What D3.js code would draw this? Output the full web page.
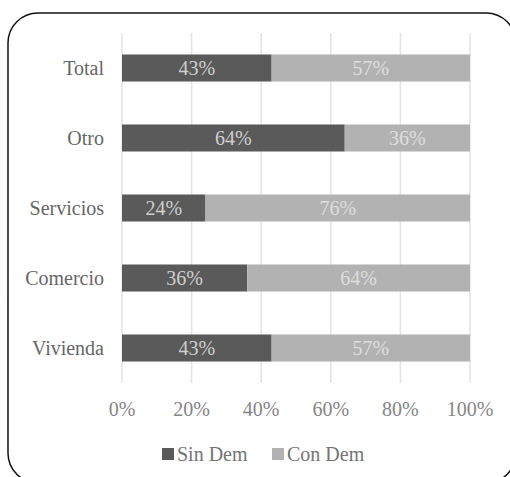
<!DOCTYPE html>
<html><head><meta charset="utf-8">
<script src="https://cdn.jsdelivr.net/npm/d3@7"></script>
<style>html,body{margin:0;padding:0;background:#fff;}svg{display:block;}
svg text{font-family:"Liberation Serif","DejaVu Serif",serif;}</style>
</head><body>
<script>
const categories = ["Total", "Otro", "Servicios", "Comercio", "Vivienda"];
const sinDem = [43, 64, 24, 36, 43];
const conDem = [57, 36, 76, 64, 57];
const seriesNames = ["Sin Dem", "Con Dem"];
const tickValues = [0, 20, 40, 60, 80, 100];

const W = 510, H = 477;
const colors = ["#5a5a5a", "#b2b2b2"];

const svg = d3.select("body").append("svg").attr("width", W).attr("height", H);

svg.append("rect").attr("x", 8).attr("y", 13).attr("width", 508).attr("height", 470)
  .attr("rx", 30).attr("ry", 30).attr("fill", "#fff").attr("stroke", "#111").attr("stroke-width", 1.5);

const x = d3.scaleLinear().domain([0, 100]).range([122, 470]);
const y = d3.scaleBand().domain(categories).range([33, 383]).paddingInner(0.614).paddingOuter(0.307);

// gridlines
svg.append("g").selectAll("line").data(tickValues).join("line")
  .attr("x1", d => x(d)).attr("x2", d => x(d)).attr("y1", 33).attr("y2", 383)
  .attr("stroke", "#e3e3e3").attr("stroke-width", 1.5);

const rows = categories.map((c, i) => ({cat: c, vals: [sinDem[i], conDem[i]]}));
const stacked = rows.map(r => {
  let acc = 0;
  return r.vals.map((v, k) => { const s = {cat: r.cat, k, v, x0: acc, x1: acc + v}; acc += v; return s; });
}).flat();

svg.append("g").selectAll("rect").data(stacked).join("rect")
  .attr("x", d => x(d.x0)).attr("width", d => x(d.x1) - x(d.x0))
  .attr("y", d => y(d.cat)).attr("height", y.bandwidth())
  .attr("fill", d => colors[d.k]);

svg.append("g").selectAll("text").data(stacked).join("text")
  .attr("x", d => (x(d.x0) + x(d.x1)) / 2)
  .attr("y", d => y(d.cat) + y.bandwidth() / 2)
  .attr("dy", "0.35em").attr("text-anchor", "middle")
  .attr("font-size", 20)
  .attr("fill", d => d.k === 0 ? "#cfcfcf" : "#dedede")
  .text(d => d.v + "%");

// category labels
svg.append("g").selectAll("text").data(categories).join("text")
  .attr("x", 104).attr("y", d => y(d) + y.bandwidth() / 2).attr("dy", "0.35em")
  .attr("text-anchor", "end").attr("font-size", 20)
  .attr("fill", "#666666").text(d => d);

// x tick labels
svg.append("g").selectAll("text").data(tickValues).join("text")
  .attr("x", d => x(d)).attr("y", 409).attr("dy", "0.35em")
  .attr("text-anchor", "middle").attr("font-size", 20)
  .attr("fill", "#858585").text(d => d + "%");

// legend
const legX = [162, 272];
const lg = svg.append("g").selectAll("g").data(seriesNames).join("g")
  .attr("transform", (d, i) => `translate(${legX[i]},0)`);
lg.append("rect").attr("x", 0).attr("y", 448).attr("width", 12).attr("height", 12)
  .attr("fill", (d, i) => colors[i]);
lg.append("text").attr("x", 15).attr("y", 454).attr("dy", "0.35em")
  .attr("font-size", 20).attr("fill", "#747474").text(d => d);
</script>
</body></html>
